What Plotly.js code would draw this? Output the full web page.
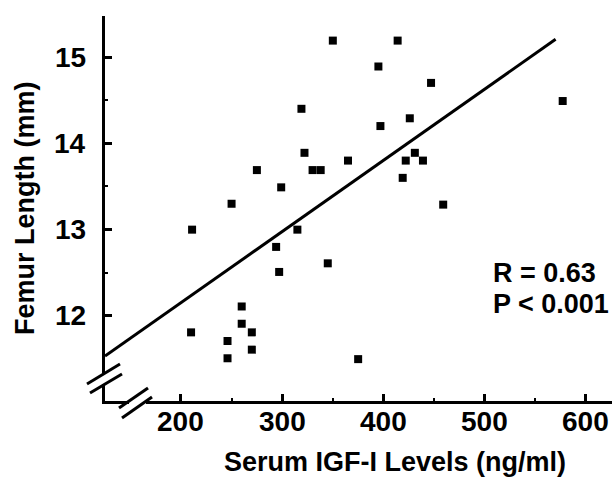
<!DOCTYPE html>
<html>
<head>
<meta charset="utf-8">
<script src="https://cdn.plot.ly/plotly-3.0.1.min.js"></script>
<style>html,body{margin:0;padding:0;background:#fff;}#chart{width:612px;height:478px;}</style>
</head>
<body>
<div id="chart"></div>
<script>
// Data
var igfLevels = [350, 319, 322, 275, 330, 338, 299, 250, 365, 414, 395, 447, 426, 397, 577, 431, 422, 439, 419, 459, 211, 315, 294, 297, 345, 260, 260, 270, 210, 246, 246, 270, 375];
var femurLength = [15.19, 14.40, 13.89, 13.69, 13.69, 13.69, 13.49, 13.30, 13.80, 15.19, 14.89, 14.70, 14.29, 14.20, 14.49, 13.89, 13.80, 13.80, 13.60, 13.29, 13.00, 13.00, 12.80, 12.51, 12.61, 12.11, 11.91, 11.81, 11.81, 11.71, 11.51, 11.61, 11.50];
var fitX = [125, 570];
var fitY = [11.535, 15.205];
var xTickVals = [200, 300, 400, 500, 600];
var yTickVals = [12, 13, 14, 15];
var statLines = ["R = 0.63", "P &lt; 0.001"];
var xTitle = "Serum IGF-I Levels (ng/ml)";
var yTitle = "Femur Length (mm)";

var W = 612, H = 478, ML = 105, MR = 0, MT = 16, MB = 77;
var PW = W - ML - MR, PH = H - MT - MB;
function px(x) { return (x - ML) / PW; }
function py(y) { return (H - MB - y) / PH; }

var FONT = '"Liberation Sans", Arial, Helvetica, sans-serif';
var TICKFONT = {family: FONT, size: 28, color: '#000', weight: 'bold'};
var LABELFONT = {family: FONT, size: 27, color: '#000', weight: 'bold'};

var traces = [
  {
    x: fitX, y: fitY, type: 'scatter', mode: 'lines',
    line: {color: '#000', width: 3}, hoverinfo: 'skip', showlegend: false
  },
  {
    x: igfLevels, y: femurLength, type: 'scatter', mode: 'markers',
    marker: {symbol: 'square', size: 8, color: '#000'}, showlegend: false
  }
];

function seg(x0, y0, x1, y1) {
  return {type: 'line', xref: 'paper', yref: 'paper', x0: px(x0), y0: py(y0), x1: px(x1), y1: py(y1),
          line: {color: '#000', width: 3}, layer: 'above'};
}
function blank(x0, y0, x1, y1) {
  return {type: 'rect', xref: 'paper', yref: 'paper', x0: px(x0), y0: py(y1), x1: px(x1), y1: py(y0),
          fillcolor: '#fff', line: {width: 0}, layer: 'above'};
}

var annotations = [
  {text: xTitle, xref: 'paper', yref: 'paper', x: px(395), y: py(479), xanchor: 'center', yanchor: 'bottom',
   showarrow: false, font: LABELFONT},
  {text: yTitle, xref: 'paper', yref: 'paper', x: px(25), y: py(208), xanchor: 'center', yanchor: 'middle',
   textangle: -90, showarrow: false, font: LABELFONT},
  {text: statLines[0], xref: 'paper', yref: 'paper', x: px(491), y: py(273), xanchor: 'left', yanchor: 'middle',
   showarrow: false, font: LABELFONT},
  {text: statLines[1], xref: 'paper', yref: 'paper', x: px(491), y: py(304), xanchor: 'left', yanchor: 'middle',
   showarrow: false, font: LABELFONT}
];
xTickVals.forEach(function (v) {
  annotations.push({text: String(v), xref: 'x', yref: 'paper', x: v, y: py(421), xanchor: 'center', yanchor: 'middle',
                    showarrow: false, font: TICKFONT});
});
yTickVals.forEach(function (v) {
  annotations.push({text: String(v), xref: 'paper', yref: 'y', x: px(88), y: v, xanchor: 'right', yanchor: 'middle',
                    showarrow: false, font: TICKFONT});
});

var layout = {
  width: W, height: H,
  margin: {l: ML, r: MR, t: MT, b: MB},
  paper_bgcolor: '#fff', plot_bgcolor: '#fff',
  font: {family: FONT, color: '#000', size: 27, weight: 'bold'},
  xaxis: {
    range: [125, 625.7], showgrid: false, zeroline: false,
    showline: true, linecolor: '#000', linewidth: 3,
    tickvals: xTickVals, showticklabels: false,
    ticks: 'inside', ticklen: 7, tickwidth: 3, tickcolor: '#000',
    minor: {tickvals: [250, 350, 450, 550], ticks: 'inside', ticklen: 3, tickwidth: 2, tickcolor: '#000', showgrid: false}
  },
  yaxis: {
    range: [11.015, 15.475], showgrid: false, zeroline: false,
    showline: true, linecolor: '#000', linewidth: 3,
    tickvals: yTickVals, showticklabels: false,
    ticks: 'inside', ticklen: 7, tickwidth: 3, tickcolor: '#000',
    minor: {tickvals: [12.5, 13.5, 14.5], ticks: 'inside', ticklen: 3, tickwidth: 2, tickcolor: '#000', showgrid: false}
  },
  shapes: [
    blank(99, 373, 111, 384),
    blank(129, 395, 146, 407),
    seg(87, 384, 120, 364),
    seg(90, 393, 122, 374),
    seg(119, 408, 148, 388),
    seg(122, 418, 152, 397)
  ],
  annotations: annotations
};

Plotly.newPlot('chart', traces, layout, {staticPlot: true, displayModeBar: false});
</script>
</body>
</html>
